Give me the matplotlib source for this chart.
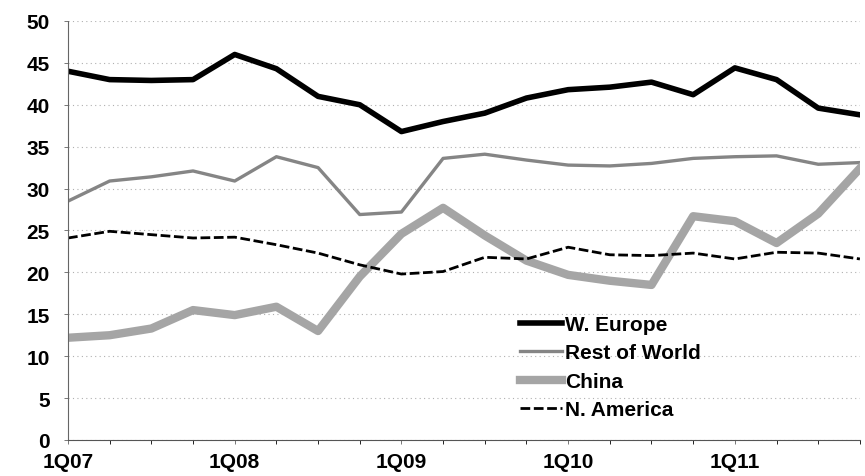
import matplotlib
matplotlib.use('Agg')
import matplotlib.pyplot as plt
import numpy as np

plt.rcParams['font.family'] = ['Liberation Sans', 'DejaVu Sans']
plt.rcParams['font.weight'] = 'bold'

quarters = ['1Q07', '2Q07', '3Q07', '4Q07', '1Q08', '2Q08', '3Q08', '4Q08',
            '1Q09', '2Q09', '3Q09', '4Q09', '1Q10', '2Q10', '3Q10', '4Q10',
            '1Q11', '2Q11', '3Q11', '4Q11']

w_europe = [44.0, 43.0, 42.9, 43.0, 46.0, 44.3, 41.0, 40.0, 36.8, 38.0,
            39.0, 40.8, 41.8, 42.1, 42.7, 41.2, 44.4, 43.0, 39.6, 38.8]
rest_of_world = [28.5, 30.9, 31.4, 32.1, 30.9, 33.8, 32.5, 26.9, 27.2, 33.6,
                 34.1, 33.4, 32.8, 32.7, 33.0, 33.6, 33.8, 33.9, 32.9, 33.1]
china = [12.2, 12.5, 13.3, 15.5, 14.9, 15.9, 13.0, 19.5, 24.6, 27.7,
         24.4, 21.4, 19.7, 19.0, 18.5, 26.7, 26.1, 23.5, 27.0, 32.4]
n_america = [24.1, 24.9, 24.5, 24.1, 24.2, 23.3, 22.3, 20.9, 19.8, 20.1,
             21.8, 21.6, 23.0, 22.1, 22.0, 22.3, 21.6, 22.4, 22.3, 21.6]

x = np.arange(len(quarters))

fig = plt.figure(figsize=(8.65, 4.77), dpi=100)
ax = fig.add_axes([0.0786, 0.0755, 0.9155, 0.8785])

ax.plot(x, w_europe, color='black', lw=4.0, label='W. Europe', solid_joinstyle='round')
ax.plot(x, rest_of_world, color='#858585', lw=2.4, label='Rest of World')
ax.plot(x, china, color='#a5a5a5', lw=6.0, label='China', solid_joinstyle='round')
ax.plot(x, n_america, color='black', lw=2.0, ls=(0, (3.5, 1.3)), label='N. America')

ax.set_xlim(0, len(quarters) - 1)
ax.set_ylim(0, 50)
ax.set_yticks(np.arange(0, 51, 5))
ax.set_xticks(x[::4])
ax.set_xticklabels(quarters[::4])
ax.set_xticks(x, minor=True)

ax.grid(axis='y', color='#b0b0b0', ls=(0, (1, 3)), lw=0.8)
for s in ['top', 'right']:
    ax.spines[s].set_visible(False)
ax.spines['left'].set_color('#666666')
ax.spines['left'].set_linestyle((0, (1, 1)))
ax.spines['bottom'].set_color('#555555')
ax.tick_params(axis='both', labelsize=15, length=3, color='#777777', width=0.7)
ax.tick_params(axis='y', pad=10)
ax.tick_params(axis='x', which='major', pad=6, length=3)
ax.tick_params(axis='x', which='minor', length=3)
for lbl in ax.get_xticklabels() + ax.get_yticklabels():
    lbl.set_fontweight('bold')

leg = ax.legend(loc='upper left', bbox_to_anchor=(0.571, 0.298), frameon=False,
                borderpad=0, borderaxespad=0,
                handlelength=2.0, handletextpad=0.15, labelspacing=0.45,
                prop={'weight': 'bold', 'size': 15})

fig.savefig('out.png', dpi=100)
